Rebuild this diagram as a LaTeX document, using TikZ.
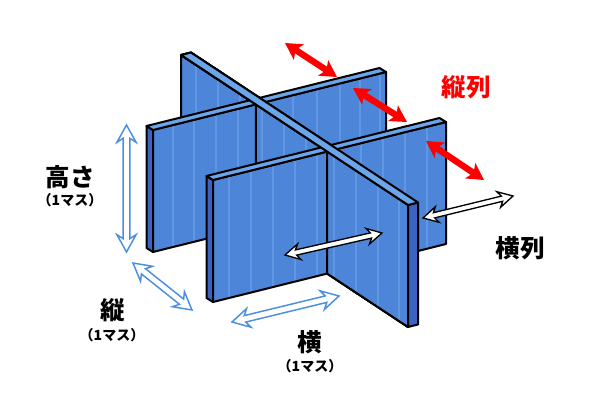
\documentclass[tikz,border=0pt]{standalone}
\usepackage{fontspec}
\newfontfamily\jp{Noto Sans CJK JP}
\usetikzlibrary{calc}
\definecolor{facecol}{HTML}{4D86D9}
\definecolor{topcol}{HTML}{6BA6EA}
\definecolor{sidecol}{HTML}{3E62C2}
\definecolor{stripecol}{HTML}{6197E2}
\definecolor{bluearr}{HTML}{4A8FE0}
\definecolor{redarr}{HTML}{FF0000}
\tikzset{
  outl/.style={draw=black, line width=1.5pt, line join=round},
  topface/.style={fill=topcol, outl},
  sideface/.style={fill=sidecol, outl},
  redarrow/.style={fill=redarr, draw=none},
  whitearrow/.style={fill=white, draw=black, line width=1pt, line join=miter},
  bluearrow/.style={fill=white, draw=bluearr, line width=1.1pt, line join=miter},
  lbl/.style={font=\jp\bfseries\fontsize{18.4}{20}\selectfont, text=black, inner sep=0pt},
  sublbl/.style={font=\jp\bfseries\fontsize{10.5}{12}\selectfont, text=black, inner sep=0pt},
}
% face with stripes: #1 path, #2 list of stripe x
\newcommand\stripeface[2]{%
  \fill[facecol] #1;
  \begin{scope}\clip #1;
    \foreach \sx in {#2} \draw[stripecol, line width=2pt] (\sx,0) -- (\sx,400);
  \end{scope}
  \draw[outl] #1;}
% double arrow: #1 style, #2 A, #3 B, #4 shaft half width, #5 head half width, #6 head length (outer), #7 head length (inner)
\newcommand\dblarr[7]{%
  \draw[#1] (#2) -- ($(#2)!#6!(#3)!#5!90:(#3)$) -- ($(#2)!#7!(#3)!#4!90:(#3)$)
   -- ($(#3)!#7!(#2)!#4!-90:(#2)$) -- ($(#3)!#6!(#2)!#5!-90:(#2)$) -- (#3)
   -- ($(#3)!#6!(#2)!#5!90:(#2)$) -- ($(#3)!#7!(#2)!#4!90:(#2)$)
   -- ($(#2)!#7!(#3)!#4!-90:(#3)$) -- ($(#2)!#6!(#3)!#5!-90:(#3)$) -- cycle;}
\begin{document}
\begin{tikzpicture}[x=0.75pt,y=-0.75pt]
\useasboundingbox (0,0) rectangle (600,400);
% ---- diagonal panel D (full, back part)
\stripeface{(181,55) -- (408,205) -- (408,327) -- (181,177) -- cycle}{196,218,240,262,284,306,328,350,372,394}
\draw[topface] (181,55) -- (408,205) -- (418,202.5) -- (191,52.5) -- cycle;
% ---- back panel B
\draw[sideface] (153,130) -- (146.5,126) -- (146.5,248) -- (153,252) -- cycle;
\stripeface{(153,130) -- (386,72) -- (386,194) -- (153,252) -- cycle}{173,194,216,238,270,293,317,340,360,380}
\draw[topface] (153,130) -- (386,72) -- (379.5,68) -- (146.5,126) -- cycle;
% ---- D in front of B
\stripeface{(255.77,104.41) -- (408,205) -- (408,327) -- (255.77,226.41) -- cycle}{262,284,306,328,350,372,394}
\draw[topface] (181,55) -- (408,205) -- (418,202.5) -- (191,52.5) -- cycle;
% ---- front panel F
\draw[sideface] (213,180) -- (206.5,176) -- (206.5,298) -- (213,302) -- cycle;
\stripeface{(213,180) -- (446,122) -- (446,244) -- (213,302) -- cycle}{229,251,273,295,317,339,361,383,405,427}
\draw[topface] (213,180) -- (446,122) -- (439.5,118) -- (206.5,176) -- cycle;
% ---- D in front of F
\stripeface{(327.17,151.59) -- (408,205) -- (408,327) -- (327.17,273.59) -- cycle}{334,356,378,399}
\draw[sideface] (408,205) -- (418,202.5) -- (418,324.5) -- (408,327) -- cycle;
\draw[topface] (181,55) -- (408,205) -- (418,202.5) -- (191,52.5) -- cycle;
% ---- arrows
\coordinate (r1a) at (285,43);  \coordinate (r1b) at (337,77);
\coordinate (r2a) at (353,88);  \coordinate (r2b) at (407,122);
\coordinate (r3a) at (426,141); \coordinate (r3b) at (484,180);
\dblarr{redarrow}{r1a}{r1b}{2.4pt}{7pt}{12.5pt}{10.5pt}
\dblarr{redarrow}{r2a}{r2b}{2.4pt}{7pt}{12.5pt}{10.5pt}
\dblarr{redarrow}{r3a}{r3b}{2.4pt}{7pt}{12.5pt}{10.5pt}
\coordinate (w1a) at (285,255); \coordinate (w1b) at (382,233);
\coordinate (w2a) at (423,218); \coordinate (w2b) at (513,196);
\dblarr{whitearrow}{w1a}{w1b}{2pt}{6pt}{11pt}{8.5pt}
\dblarr{whitearrow}{w2a}{w2b}{2pt}{6pt}{11pt}{8.5pt}
\coordinate (b1a) at (126.5,125); \coordinate (b1b) at (126.5,252);
\coordinate (b2a) at (133,263);   \coordinate (b2b) at (192,310);
\coordinate (b3a) at (232,322);   \coordinate (b3b) at (339,296);
\dblarr{bluearrow}{b1a}{b1b}{2.5pt}{7.2pt}{13pt}{10pt}
\dblarr{bluearrow}{b2a}{b2b}{2.5pt}{7.2pt}{13pt}{10pt}
\dblarr{bluearrow}{b3a}{b3b}{2.5pt}{7.2pt}{13pt}{10pt}
% ---- labels
\node[lbl] (takasa) at (70,177) {高さ};
\node[sublbl] (takasa1) at (70,200) {（1マス）};
\node[lbl] (tate) at (113,310) {縦};
\node[sublbl] (tate1) at (112,335) {（1マス）};
\node[lbl] (yoko) at (310,342) {横};
\node[sublbl] (yoko1) at (310,366) {（1マス）};
\node[lbl, text=redarr] (tateretsu) at (466,87) {縦列};
\node[lbl] (yokoretsu) at (520,248) {横列};
\end{tikzpicture}
\end{document}
